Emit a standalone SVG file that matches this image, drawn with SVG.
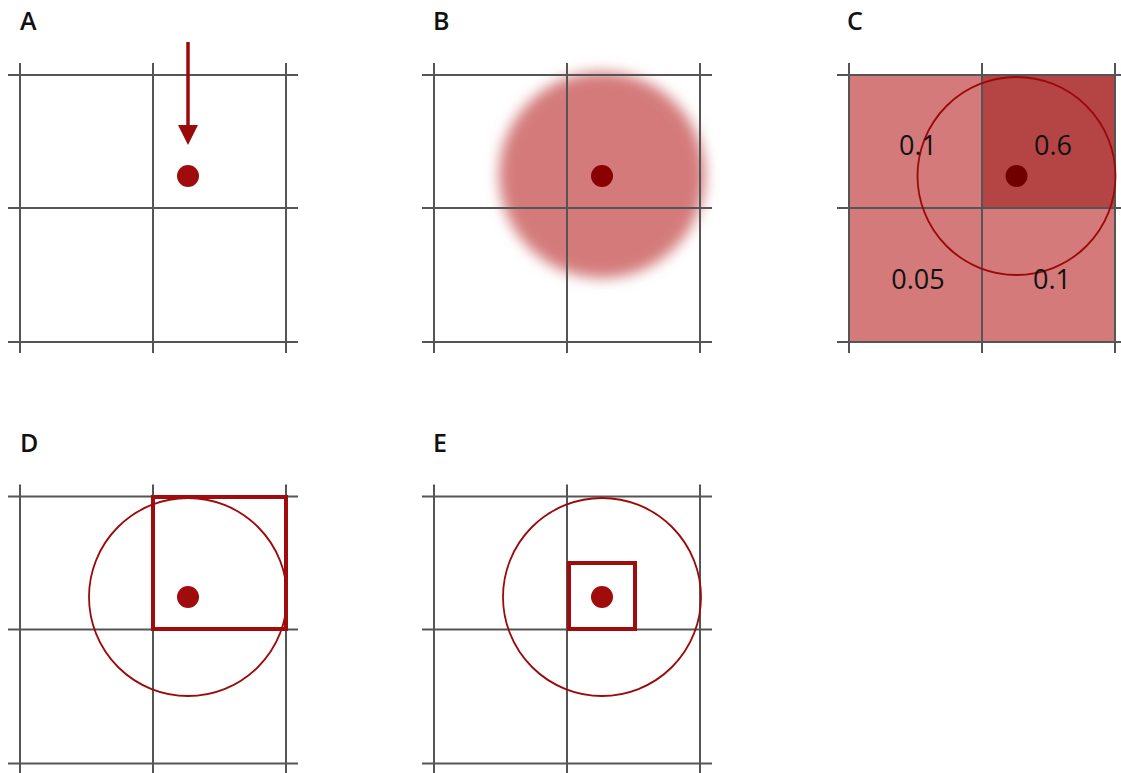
<svg xmlns="http://www.w3.org/2000/svg" width="1121" height="773" viewBox="0 0 1121 773">
<style>
.grid line{stroke:#555;stroke-width:2}
.lbl{font-family:"Open Sans","Noto Sans",sans-serif;font-weight:600;font-size:25px;fill:#111}
.num{font-family:"Open Sans","Noto Sans",sans-serif;font-weight:500;font-size:27px;fill:#111;text-anchor:middle}
.dot{fill:#a00c0c}
.ring{fill:none;stroke:#9b0a0a;stroke-width:1.8}
.box{fill:none;stroke:#a00c0c;stroke-width:4}
</style>
<defs>
<filter id="blur" x="-30%" y="-30%" width="160%" height="160%"><feGaussianBlur stdDeviation="7"/></filter>
<g id="gridTpl" class="grid">
<line x1="8" y1="75" x2="298" y2="75"/>
<line x1="8" y1="208" x2="298" y2="208"/>
<line x1="8" y1="342" x2="298" y2="342"/>
<line x1="20" y1="63" x2="20" y2="353"/>
<line x1="153" y1="63" x2="153" y2="353"/>
<line x1="286" y1="63" x2="286" y2="353"/>
</g>
</defs>
<rect width="1121" height="773" fill="#fff"/>

<g id="panelA">
<text class="lbl" x="20" y="30">A</text>
<use href="#gridTpl"/>
<line x1="188" y1="42" x2="188" y2="128" stroke="#9b0a0a" stroke-width="3.5"/>
<polygon points="178,125 198,125 188,145" fill="#9b0a0a"/>
<circle class="dot" cx="188" cy="176" r="11"/>
</g>

<g id="panelB">
<text class="lbl" x="433" y="30">B</text>
<circle cx="602" cy="175" r="103" fill="#d47a7a" filter="url(#blur)"/>
<use href="#gridTpl" transform="translate(414,0)"/>
<circle cx="602" cy="176" r="11" fill="#8b0000"/>
</g>

<g id="panelC">
<text class="lbl" x="847" y="30">C</text>
<rect x="848" y="75" width="268" height="267" fill="#d47a7a"/>
<rect x="982" y="75" width="134" height="133" fill="#b54545"/>
<use href="#gridTpl" transform="translate(829,0)"/>
<circle class="ring" cx="1016.5" cy="176" r="99"/>
<circle cx="1016.5" cy="176" r="11" fill="#700000"/>
<text class="num" x="918" y="155">0.1</text>
<text class="num" x="1053" y="155">0.6</text>
<text class="num" x="918" y="289">0.05</text>
<text class="num" x="1052" y="289">0.1</text>
</g>

<g id="panelD">
<text class="lbl" x="20" y="452">D</text>
<use href="#gridTpl" transform="translate(0,421.5)"/>
<circle class="ring" cx="188" cy="597" r="99"/>
<rect class="box" x="153" y="497" width="133" height="132"/>
<circle class="dot" cx="188" cy="597" r="11"/>
</g>

<g id="panelE">
<text class="lbl" x="433" y="452">E</text>
<use href="#gridTpl" transform="translate(414,421.5)"/>
<circle class="ring" cx="602" cy="597" r="99"/>
<rect class="box" x="569" y="563" width="66" height="66"/>
<circle class="dot" cx="602" cy="597" r="11"/>
</g>

<g id="connectors"></g>
</svg>
